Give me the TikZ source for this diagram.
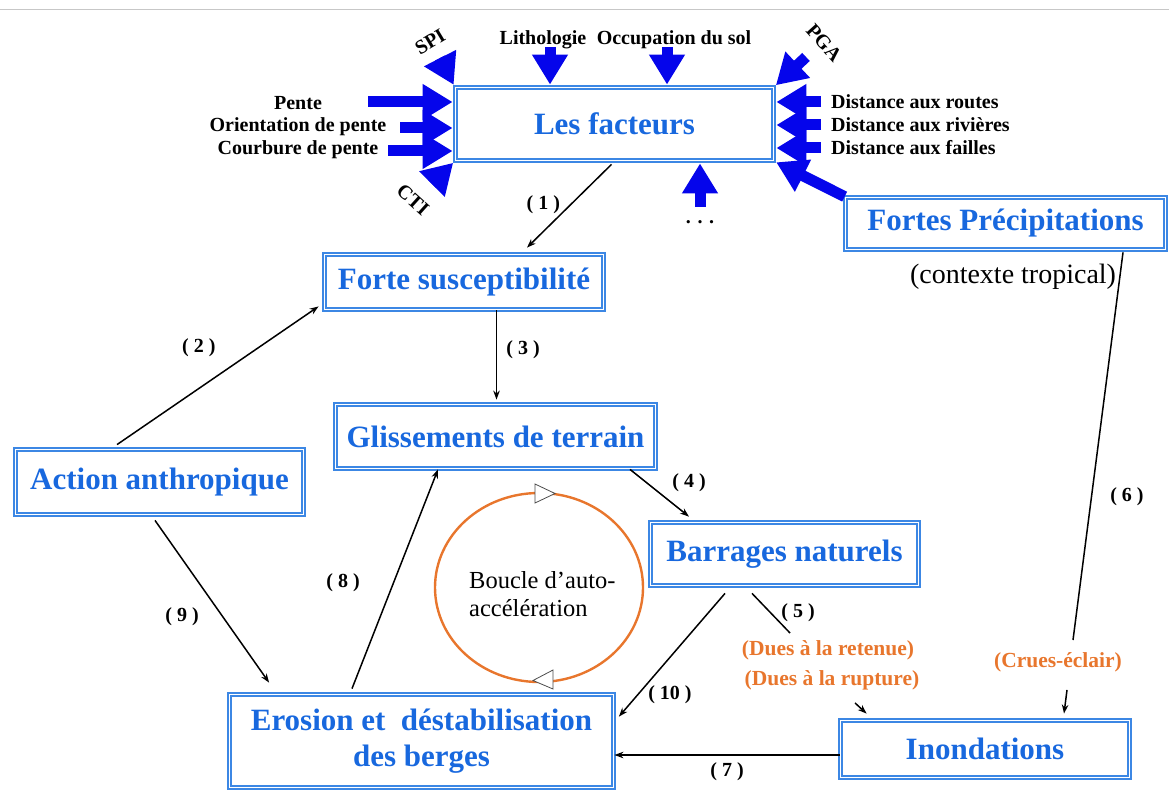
\documentclass[tikz,border=0pt]{standalone}
\usepackage{fontspec}
\setmainfont{Liberation Serif}
\usetikzlibrary{arrows.meta}
\definecolor{boxblue}{RGB}{60,135,228}
\definecolor{txtblue}{RGB}{24,104,222}
\definecolor{fatblue}{RGB}{5,5,235}
\definecolor{loopor}{RGB}{232,118,45}
\newcommand{\fsz}[2]{\fontsize{#1}{#2}\selectfont}

\begin{document}
\begin{tikzpicture}[x=1pt,y=-1pt,
    box/.style={draw=boxblue, double=white, double distance=1.5pt, line width=1.8pt,
      text=txtblue, font=\bfseries\fsz{31}{36}, align=center},
    lbl/.style={font=\bfseries\fsz{20}{22}},
    num/.style={font=\bfseries\fsz{20}{22}},
    cause/.style={font=\bfseries\fsz{21.5}{24}, text=loopor},
    conn/.style={line width=1.5pt, -{Stealth[length=9pt,width=6.5pt]}},
    link/.style={line width=1.5pt},
    fat/.style={line width=11pt, draw=fatblue, -{Triangle[length=30pt,width=34pt]}, shorten >=2pt}]
  \tikzstyle{every node}+=[inner sep=0pt]
  \useasboundingbox (0,0) rectangle (1169,791);
  \draw[black!22, line width=1pt] (0,10) -- (1169,10);

  % boxes
  \node[box, minimum width=318pt, minimum height=73pt] (fact) at (614.5,124) {Les facteurs};
  \node[box, minimum width=320pt, minimum height=52pt] (precip) at (1005.5,223.5) {Fortes Précipitations};
  \node[box, minimum width=279pt, minimum height=55pt] (suscep) at (464,282) {Forte susceptibilité};
  \node[box, minimum width=320pt, minimum height=64pt] (gliss) at (495.5,436.5) {Glissements de terrain};
  \node[box, minimum width=288pt, minimum height=65pt] (anthro) at (159.5,482) {Action anthropique};
  \node[box, minimum width=268pt, minimum height=63pt] (barr) at (784.5,554) {Barrages naturels};
  \node[box, minimum width=384pt, minimum height=93pt] (erosion) at (421.5,741) {Erosion et\ \ déstabilisation\\des berges};
  \node[box, minimum width=289pt, minimum height=57pt] (inond) at (985,749) {Inondations};

  % factor labels
  \node[lbl] (pente) at (298,103) {Pente};
  \node[lbl] (orient) at (298,127) {Orientation de pente};
  \node[lbl] (courb) at (298,150) {Courbure de pente};
  \node[lbl, anchor=west] (routes) at (831,102) {Distance aux routes};
  \node[lbl, anchor=west] (rivieres) at (831,125) {Distance aux rivières};
  \node[lbl, anchor=west] (failles) at (831,148) {Distance aux failles};
  \node[lbl] (litho) at (543,40) {Lithologie};
  \node[lbl] (occup) at (674,40) {Occupation du sol};
  \node[lbl, rotate=31] (spi) at (430,42) {SPI};
  \node[lbl, rotate=-42] (cti) at (413,200) {CTI};
  \node[lbl, rotate=-48] (pga) at (824,43) {PGA};
  \node[lbl] (etc) at (700,222) {. . .};

  % fat arrows into the factors
  \coordinate (pente-a) at (368,102);
  \coordinate (orient-a) at (400,128);
  \coordinate (courb-a) at (388,151);
  \coordinate (routes-a) at (821,102);
  \coordinate (rivieres-a) at (821,125);
  \coordinate (failles-a) at (821,148);
  \coordinate (litho-a) at (550,47);
  \coordinate (occup-a) at (667,47);
  \coordinate (etc-a) at (700,207);
  \coordinate (spi-a) at (440,58);
  \coordinate (cti-a) at (432,184);
  \coordinate (pga-a) at (806,57);
  \foreach \f in {pente,orient,courb}
    \draw[fat] (\f-a) -- (\f-a -| fact.west);
  \foreach \f in {routes,rivieres,failles}
    \draw[fat] (\f-a) -- (\f-a -| fact.east);
  \draw[fat] (litho-a) -- (litho-a |- fact.north);
  \draw[fat] (occup-a) -- (occup-a |- fact.north);
  \draw[fat] (etc-a) -- (etc-a |- fact.south);
  \draw[fat] (spi-a) -- (fact.north west);
  \draw[fat] (cti-a) -- (fact.south west);
  \draw[fat] (pga-a) -- (fact.north east);
  \draw[fat] (precip.north west) -- (fact.south east);

  \node[font=\fsz{28}{30}] (tropic) at (1013,277) {(contexte tropical)};

  % auto-acceleration loop
  \draw[loopor, line width=2.4pt] (539,587.5) ellipse [x radius=104pt, y radius=94.5pt];
  \draw[black!70, fill=white, line width=0.8pt] (535,484) -- (535,503) -- (555,493.5) -- cycle;
  \draw[black!70, fill=white, line width=0.8pt] (553,670) -- (553,689) -- (533,680.5) -- cycle;
  \node[font=\fsz{24.5}{28}, align=left, anchor=west] (looptxt) at (469,594) {Boucle d’auto-\\accélération};

  % causes of flooding
  \node[cause] (retenue) at (828,650) {(Dues à la retenue)};
  \node[cause] (rupture) at (832,680) {(Dues à la rupture)};
  \node[cause] (crues) at (1058,662) {(Crues-éclair)};
  \coordinate (dam-end) at (790,633);
  \coordinate (rain-end) at (1073,640);

  % links
  \draw[conn] ([xshift=-3pt,yshift=-3pt]fact.south) -- node[num, xshift=-26pt, yshift=1pt] {( 1 )} ([xshift=63pt,yshift=6pt]suscep.north);
  \draw[conn] ([xshift=-42.5pt,yshift=4pt]anthro.north) -- node[num, xshift=-19pt, yshift=27.5pt] {( 2 )} ([xshift=-5pt,yshift=4pt]suscep.south west);
  \draw[conn] ([xshift=32.5pt]suscep.south) -- node[num, xshift=26.5pt, yshift=5pt] {( 3 )} ([xshift=1pt,yshift=4pt]gliss.north);
  \draw[conn] ([xshift=134.5pt]gliss.south) -- node[num, xshift=29.5pt, yshift=10pt] {( 4 )} ([xshift=-95.5pt,yshift=5pt]barr.north);
  \draw[link] ([xshift=-32.5pt,yshift=-7pt]barr.south) -- node[num, xshift=27pt, yshift=1pt] {( 5 )} (dam-end);
  \draw[conn] ([xshift=23pt,yshift=-13pt]rupture.south) -- ([xshift=27pt,yshift=6pt]inond.north west);
  \draw[link] ([xshift=117.5pt,yshift=-2pt]precip.south) -- node[num, pos=.631, xshift=35.5pt] {( 6 )} (rain-end);
  \draw[conn] ([xshift=9pt,yshift=-18pt]crues.south) -- ([xshift=79pt,yshift=6pt]inond.north);
  \draw[conn] ([yshift=-6pt]inond.west) -- node[num, yshift=-17pt] {( 7 )} ([yshift=-6pt]inond.west -| erosion.east);
  \draw[conn] ([xshift=-69.5pt,yshift=5pt]erosion.north) -- node[num, xshift=-52pt, yshift=-4pt] {( 8 )} ([xshift=-57.5pt]gliss.south);
  \draw[conn] ([xshift=-4.5pt,yshift=-5pt]anthro.south) -- node[num, xshift=-30pt, yshift=-15.5pt] {( 9 )} ([xshift=40.5pt,yshift=11pt]erosion.north west);
  \draw[conn] ([xshift=-59.5pt,yshift=-7pt]barr.south) -- node[num, pos=.83, xshift=33pt, yshift=1pt] {( 10 )} ([xshift=4.5pt,yshift=-23pt]erosion.north east);
\end{tikzpicture}
\end{document}
